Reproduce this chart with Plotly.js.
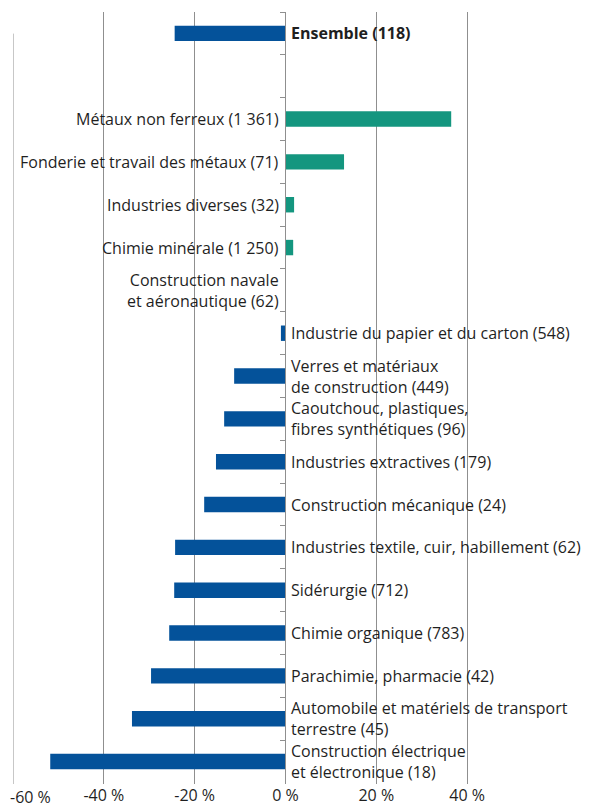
<!DOCTYPE html>
<html>
<head>
<meta charset="utf-8">
<script src="https://cdn.plot.ly/plotly-3.0.1.min.js"></script>
<style>
  html, body { margin: 0; padding: 0; background: #fff; }
  #chart { width: 590px; height: 807px; }
</style>
</head>
<body>
<div id="chart"></div>
<script>
// ---- données ----
const secteurs = [
    "Ensemble (118)",
    " ",
    "Métaux non ferreux (1 361)",
    "Fonderie et travail des métaux (71)",
    "Industries diverses (32)",
    "Chimie minérale (1 250)",
    "Construction navale<br>et aéronautique (62)",
    "Industrie du papier et du carton (548)",
    "Verres et matériaux<br>de construction (449)",
    "Caoutchouc, plastiques,<br>fibres synthétiques (96)",
    "Industries extractives (179)",
    "Construction mécanique (24)",
    "Industries textile, cuir, habillement (62)",
    "Sidérurgie (712)",
    "Chimie organique (783)",
    "Parachimie, pharmacie (42)",
    "Automobile et matériels de transport<br>terrestre (45)",
    "Construction électrique<br>et électronique (18)"
];
const variations = [
    -24.4, null, 36.5, 12.9, 1.9, 1.7, 0, -1.0, -11.3, -13.5,
    -15.3, -17.9, -24.3, -24.5, -25.6, -29.6, -33.8, -51.8
];
const xTicks = [-60, -40, -20, 0, 20, 40];
const xTickLabels = ["-60 %", "-40 %", "-20 %", "0 %", "20 %", "40 %"];

const BLEU = "#04529a";
const VERT = "#14967f";
const TEXTE = "#1f1f1f";
const GRIS = "#8f8f8f";
const FONT = "Open Sans, sans-serif";
const TAILLE = 16;

const X_MIN = -60, X_MAX = 62;

const couleurs = variations.map((v, i) => (i > 0 && v > 0) ? VERT : BLEU);

// libellés collés à l'axe du zéro : à gauche pour les hausses, à droite pour les baisses
const annotations = [];
secteurs.forEach((s, i) => {
    const v = variations[i];
    if (v === null) return;
    const gauche = v >= 0 && i > 0;
    annotations.push({
        xref: "x", yref: "y",
        x: 0, y: s,
        text: i === 0 ? "<b>" + s + "</b>" : s,
        showarrow: false,
        xanchor: gauche ? "right" : "left",
        align: gauche ? "right" : "left",
        xshift: gauche ? -5 : 5,
        borderpad: 0,
        font: { family: FONT, size: TAILLE, color: TEXTE }
    });
});

// -60 % : pas de grille pleine hauteur, libellé décalé
annotations.push({
    xref: "x", yref: "paper",
    x: X_MIN, y: 0,
    text: xTickLabels[0],
    showarrow: false,
    xanchor: "left", yanchor: "top",
    xshift: -5, yshift: 0,
    font: { family: FONT, size: TAILLE, color: TEXTE }
});

const trace = {
    type: "bar",
    orientation: "h",
    x: variations,
    y: secteurs,
    width: 0.36,
    marker: { color: couleurs, line: { width: 0 } },
    hoverinfo: "none"
};

const layout = {
    width: 590,
    height: 807,
    margin: { l: 13, r: 23, t: 12, b: 23 },
    paper_bgcolor: "#fff",
    plot_bgcolor: "#fff",
    showlegend: false,
    font: { family: FONT, size: TAILLE, color: TEXTE },
    xaxis: {
        range: [X_MIN, X_MAX],
        tickvals: xTicks.slice(1),
        ticktext: xTickLabels.slice(1),
        showgrid: true,
        gridcolor: GRIS,
        gridwidth: 1,
        zeroline: false,
        showline: false,
        ticks: "",
        tickfont: { family: FONT, size: TAILLE, color: TEXTE },
        fixedrange: true
    },
    yaxis: {
        type: "category",
        autorange: "reversed",
        anchor: "free",
        position: (0 - X_MIN) / (X_MAX - X_MIN),
        showline: true,
        linecolor: GRIS,
        linewidth: 1,
        ticks: "outside",
        ticklen: 5,
        tickcolor: GRIS,
        tickson: "boundaries",
        showticklabels: false,
        showgrid: false,
        zeroline: false,
        fixedrange: true
    },
    shapes: [{
        type: "line",
        xref: "x", yref: "paper",
        x0: X_MIN, x1: X_MIN,
        y0: 0, y1: 0.972,
        line: { color: GRIS, width: 1 }
    }],
    annotations: annotations
};

Plotly.newPlot("chart", [trace], layout, { displayModeBar: false, staticPlot: true });
</script>
</body>
</html>
